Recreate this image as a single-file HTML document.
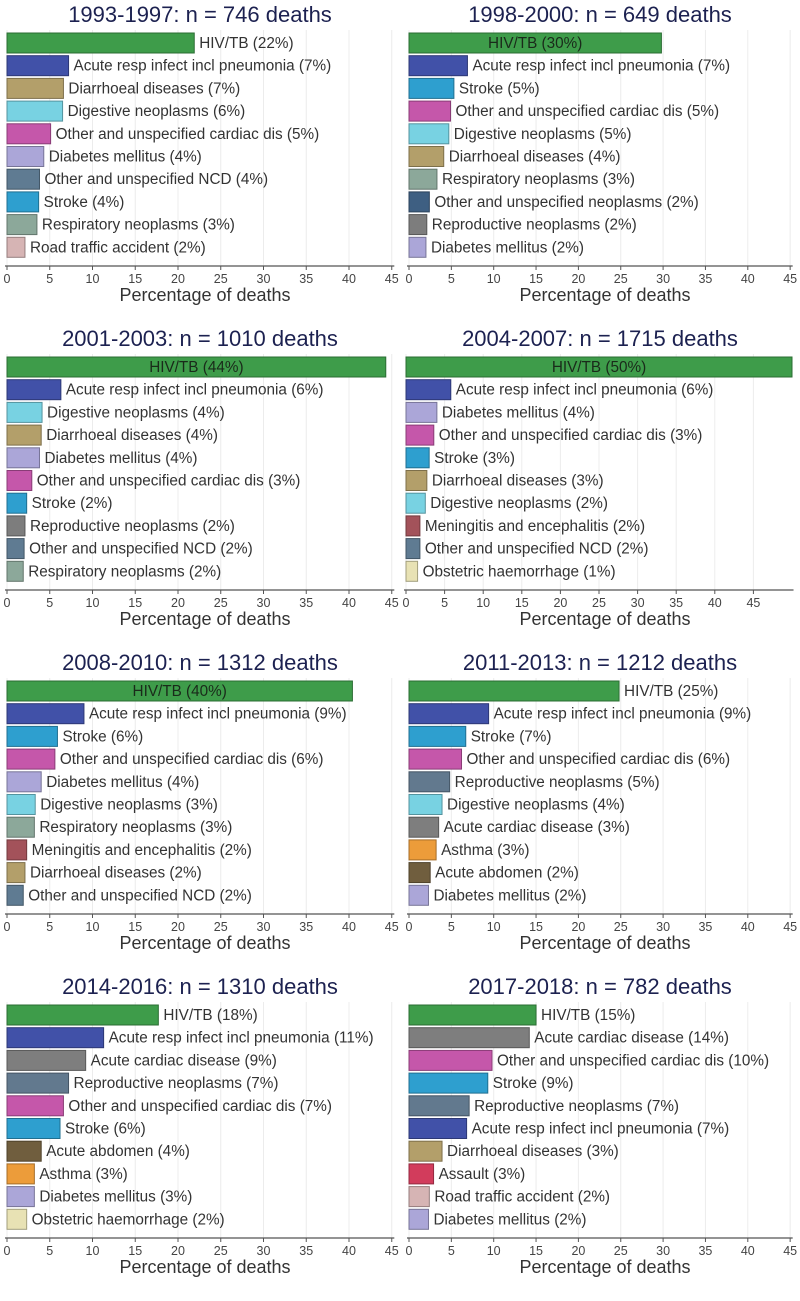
<!DOCTYPE html>
<html><head><meta charset="utf-8">
<style>
html,body{margin:0;padding:0;background:#fff;}
svg{display:block;font-family:"Liberation Sans",Arial,sans-serif;}
</style></head>
<body>
<svg id="chart" width="800" height="1301" viewBox="0 0 800 1301" xmlns="http://www.w3.org/2000/svg"></svg>
<script>
const titles = ["1993-1997: n = 746 deaths","1998-2000: n = 649 deaths","2001-2003: n = 1010 deaths","2004-2007: n = 1715 deaths","2008-2010: n = 1312 deaths","2011-2013: n = 1212 deaths","2014-2016: n = 1310 deaths","2017-2018: n = 782 deaths"];
const causes1 = ["HIV/TB","Acute resp infect incl pneumonia","Diarrhoeal diseases","Digestive neoplasms","Other and unspecified cardiac dis","Diabetes mellitus","Other and unspecified NCD","Stroke","Respiratory neoplasms","Road traffic accident"];
const values1 = [21.9,7.2,6.6,6.5,5.1,4.3,3.8,3.7,3.5,2.1];
const printed1 = [22,7,7,6,5,4,4,4,3,2];
const causes2 = ["HIV/TB","Acute resp infect incl pneumonia","Stroke","Other and unspecified cardiac dis","Digestive neoplasms","Diarrhoeal diseases","Respiratory neoplasms","Other and unspecified neoplasms","Reproductive neoplasms","Diabetes mellitus"];
const values2 = [29.8,6.9,5.3,4.9,4.7,4.1,3.3,2.4,2.1,2.0];
const printed2 = [30,7,5,5,5,4,3,2,2,2];
const causes3 = ["HIV/TB","Acute resp infect incl pneumonia","Digestive neoplasms","Diarrhoeal diseases","Diabetes mellitus","Other and unspecified cardiac dis","Stroke","Reproductive neoplasms","Other and unspecified NCD","Respiratory neoplasms"];
const values3 = [44.3,6.3,4.1,4.0,3.8,2.9,2.3,2.1,2.0,1.9];
const printed3 = [44,6,4,4,4,3,2,2,2,2];
const causes4 = ["HIV/TB","Acute resp infect incl pneumonia","Diabetes mellitus","Other and unspecified cardiac dis","Stroke","Diarrhoeal diseases","Digestive neoplasms","Meningitis and encephalitis","Other and unspecified NCD","Obstetric haemorrhage"];
const values4 = [50.0,5.8,4.0,3.6,3.0,2.7,2.5,1.8,1.8,1.5];
const printed4 = [50,6,4,3,3,3,2,2,2,1];
const causes5 = ["HIV/TB","Acute resp infect incl pneumonia","Stroke","Other and unspecified cardiac dis","Diabetes mellitus","Digestive neoplasms","Respiratory neoplasms","Meningitis and encephalitis","Diarrhoeal diseases","Other and unspecified NCD"];
const values5 = [40.4,9.0,5.9,5.6,4.0,3.3,3.2,2.3,2.1,1.9];
const printed5 = [40,9,6,6,4,3,3,2,2,2];
const causes6 = ["HIV/TB","Acute resp infect incl pneumonia","Stroke","Other and unspecified cardiac dis","Reproductive neoplasms","Digestive neoplasms","Acute cardiac disease","Asthma","Acute abdomen","Diabetes mellitus"];
const values6 = [24.8,9.4,6.7,6.2,4.8,3.9,3.5,3.2,2.5,2.3];
const printed6 = [25,9,7,6,5,4,3,3,2,2];
const causes7 = ["HIV/TB","Acute resp infect incl pneumonia","Acute cardiac disease","Reproductive neoplasms","Other and unspecified cardiac dis","Stroke","Acute abdomen","Asthma","Diabetes mellitus","Obstetric haemorrhage"];
const values7 = [17.7,11.3,9.2,7.2,6.6,6.2,4.0,3.2,3.2,2.3];
const printed7 = [18,11,9,7,7,6,4,3,3,2];
const causes8 = ["HIV/TB","Acute cardiac disease","Other and unspecified cardiac dis","Stroke","Reproductive neoplasms","Acute resp infect incl pneumonia","Diarrhoeal diseases","Assault","Road traffic accident","Diabetes mellitus"];
const values8 = [15.0,14.2,9.8,9.3,7.1,6.8,3.9,2.9,2.4,2.3];
const printed8 = [15,14,10,9,7,7,3,3,2,2];
const ticks = [0,5,10,15,20,25,30,35,40,45];
const ticks4 = [0,5,10,15,20,25,30,35,40,45];

const colors = {"HIV/TB":"#3e9c4a","Acute resp infect incl pneumonia":"#4151a8","Diarrhoeal diseases":"#b39f6a","Digestive neoplasms":"#78d2e2","Other and unspecified cardiac dis":"#c557aa","Diabetes mellitus":"#aba6d8","Other and unspecified NCD":"#5f7b92","Stroke":"#2e9fcf","Respiratory neoplasms":"#8ca89a","Road traffic accident":"#d6b4b4","Other and unspecified neoplasms":"#3e5f82","Reproductive neoplasms":"#7d7d7d","Meningitis and encephalitis":"#a3525a","Obstetric haemorrhage":"#e8e2b4","Acute cardiac disease":"#7e7e7e","Asthma":"#ec9c3a","Acute abdomen":"#705e3e","Assault":"#d23c5c"};
const lateReproColor = "#62798e";
const causes = [causes1,causes2,causes3,causes4,causes5,causes6,causes7,causes8];
const values = [values1,values2,values3,values4,values5,values6,values7,values8];
const printed = [printed1,printed2,printed3,printed4,printed5,printed6,printed7,printed8];
const NS="http://www.w3.org/2000/svg";
const svg=document.getElementById('chart');
function mk(tag,attrs,parent){const e=document.createElementNS(NS,tag);for(const k in attrs)e.setAttribute(k,attrs[k]);parent.appendChild(e);return e;}
function darker(hex){const n=parseInt(hex.slice(1),16);const r=(n>>16)*0.7|0,g=((n>>8)&255)*0.7|0,b=(n&255)*0.7|0;return `rgb(${r},${g},${b})`;}

for(let p=0;p<8;p++){
  const col=p%2,row=Math.floor(p/2);
  const rowTop=33+row*324;
  const x0 = col===0?7:(p===3?406:409);
  const xMax = p===3?50.2:45.3;
  const scale = col===0?8.55:(p===3?7.72:8.47);
  const xs=v=>x0+v*scale;
  const axisY=rowTop+233;
  const tk = p===3?ticks4:ticks;
  const g=mk('g',{},svg);
  
  
  const cx=col===0?200:600;
  const t=mk('text',{x:cx,y:rowTop-11,'text-anchor':'middle','font-size':'22',fill:'#1c2150'},g);
  t.textContent=titles[p];
  
  
  tk.forEach(tv=>{
    const gl=mk('line',{x1:xs(tv),x2:xs(tv),y1:rowTop-3,y2:axisY,stroke:'#ececec','stroke-width':1},g);
    
    
  });
  causes[p].forEach((c,i)=>{
    const v=values[p][i];
    const y=rowTop+i*22.7;
    let fill=colors[c]||'#888888';
    if(c==="Reproductive neoplasms" && p>=5) fill=lateReproColor;
    const r=mk('rect',{x:x0,y:y,width:xs(v)-x0,height:20,fill:fill,stroke:darker(fill),'stroke-width':1},g);
    
    
    const label=c+' ('+printed[p][i]+'%)';
    const inside = i===0 && v>28;
    const tx=mk('text',{x:inside?(x0+xs(v))/2:xs(v)+5,y:y+15,'font-size':'15.3',fill:inside?'#1a2a1a':'#333','text-anchor':inside?'middle':'start'},g);
    tx.textContent=label;
    
    
  });
  const ax=mk('line',{x1:x0-2,x2:xs(xMax),y1:axisY,y2:axisY,stroke:'#555','stroke-width':1.2},g);
  
  
  tk.forEach(tv=>{
    const tm=mk('line',{x1:xs(tv),x2:xs(tv),y1:axisY,y2:axisY+4,stroke:'#555','stroke-width':1},g);
    
    
    const tl=mk('text',{x:xs(tv),y:axisY+17,'text-anchor':'middle','font-size':'12.5',fill:'#444'},g);
    tl.textContent=String(tv);
    
    
  });
  const xt=mk('text',{x:cx+5,y:axisY+35,'text-anchor':'middle','font-size':'18',fill:'#333'},g);
  xt.textContent='Percentage of deaths';
  
  
}
</script>
</body></html>
